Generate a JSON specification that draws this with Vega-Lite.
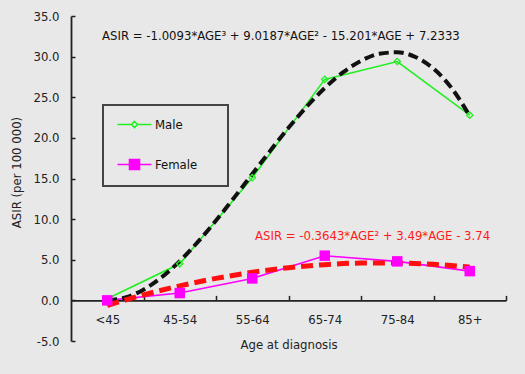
{
  "$schema": "https://vega.github.io/schema/vega-lite/v6.json",
  "width": 435,
  "height": 325,
  "autosize": {"type": "none"},
  "padding": {"left": 71, "top": 16, "right": 19, "bottom": 33},
  "background": "#e8e8e8",
  "config": {
    "view": {"stroke": null},
    "font": "DejaVu Sans Condensed, DejaVu Sans, sans-serif",
    "axis": {
      "domainColor": "#222222",
      "domainWidth": 1.8,
      "tickColor": "#222222",
      "tickWidth": 1.5,
      "labelColor": "#222222",
      "labelFontSize": 13,
      "titleColor": "#222222",
      "titleFontSize": 13,
      "titleFontWeight": "normal",
      "grid": false
    },
    "legend": {"strokeWidth": 2}
  },
  "datasets": {
    "obs": [
      {"age": 1, "sex": "Male", "asir": 0.2},
      {"age": 2, "sex": "Male", "asir": 4.5},
      {"age": 3, "sex": "Male", "asir": 15.1},
      {"age": 4, "sex": "Male", "asir": 27.2},
      {"age": 5, "sex": "Male", "asir": 29.4},
      {"age": 6, "sex": "Male", "asir": 22.8},
      {"age": 1, "sex": "Female", "asir": 0.0},
      {"age": 2, "sex": "Female", "asir": 0.9},
      {"age": 3, "sex": "Female", "asir": 2.7},
      {"age": 4, "sex": "Female", "asir": 5.5},
      {"age": 5, "sex": "Female", "asir": 4.8},
      {"age": 6, "sex": "Female", "asir": 3.6}
    ],
    "mfit": [
      {"age": 1.0, "asir": 0.0417},
      {"age": 1.25, "asir": 0.3525},
      {"age": 1.5, "asir": 1.3175},
      {"age": 1.75, "asir": 2.8421},
      {"age": 2.0, "asir": 4.8317},
      {"age": 2.25, "asir": 7.1917},
      {"age": 2.5, "asir": 9.8274},
      {"age": 2.75, "asir": 12.6442},
      {"age": 3.0, "asir": 15.5475},
      {"age": 3.25, "asir": 18.4327},
      {"age": 3.5, "asir": 21.2351},
      {"age": 3.75, "asir": 23.8302},
      {"age": 4.0, "asir": 26.1333},
      {"age": 4.25, "asir": 28.0498},
      {"age": 4.5, "asir": 29.485},
      {"age": 4.75, "asir": 30.3444},
      {"age": 5.0, "asir": 30.5333},
      {"age": 5.25, "asir": 29.9571},
      {"age": 5.5, "asir": 28.5212},
      {"age": 5.75, "asir": 26.1309},
      {"age": 6.0, "asir": 22.6917}
    ],
    "ffit": [
      {"age": 1.0, "asir": -0.6143},
      {"age": 1.5, "asir": 0.6753},
      {"age": 2.0, "asir": 1.7828},
      {"age": 2.5, "asir": 2.7081},
      {"age": 3.0, "asir": 3.4513},
      {"age": 3.5, "asir": 4.0123},
      {"age": 4.0, "asir": 4.3912},
      {"age": 4.5, "asir": 4.5879},
      {"age": 5.0, "asir": 4.6025},
      {"age": 5.5, "asir": 4.4349},
      {"age": 6.0, "asir": 4.0852}
    ],
    "eqm": [
      {"age": 0.928, "asir": 32.6, "label": "ASIR = -1.0093*AGE³ + 9.0187*AGE² - 15.201*AGE + 7.2333"}
    ],
    "eqf": [
      {"age": 3.038, "asir": 7.97, "label": "ASIR = -0.3643*AGE² + 3.49*AGE - 3.74"}
    ]
  },
  "encoding": {
    "x": {
      "field": "age",
      "type": "quantitative",
      "scale": {"domain": [0.5, 6.5], "nice": false, "zero": false},
      "axis": {
        "title": "Age at diagnosis",
        "values": [1, 2, 3, 4, 5, 6],
        "labelExpr": "['<45','45-54','55-64','65-74','75-84','85+'][datum.value - 1]",
        "offset": -40.625,
        "tickSize": -5,
        "tickOffset": 36.25,
        "labelOffset": -36.25,
        "labelPadding": 18,
        "titlePadding": 12
      }
    },
    "y": {
      "field": "asir",
      "type": "quantitative",
      "scale": {"domain": [-5, 35], "nice": false, "zero": false},
      "axis": {
        "title": "ASIR (per 100 000)",
        "values": [-5, 0, 5, 10, 15, 20, 25, 30, 35],
        "labelExpr": "replace(format(datum.value, '.1f'), '\u2212', '-')",
        "tickSize": -4,
        "labelPadding": 16,
        "titleX": -48,
        "titleY": 156
      }
    }
  },
  "layer": [
    {
      "data": {"name": "obs"},
      "transform": [{"filter": "datum.sex === 'Male'"}],
      "mark": {"type": "line", "color": "#22ee22", "strokeWidth": 1.6}
    },
    {
      "data": {"name": "obs"},
      "transform": [{"filter": "datum.sex === 'Female'"}],
      "mark": {"type": "line", "color": "#ff00ff", "strokeWidth": 1.6}
    },
    {
      "data": {"name": "mfit"},
      "mark": {"type": "line", "color": "#111111", "strokeWidth": 4, "strokeDash": [10, 5], "interpolate": "monotone"}
    },
    {
      "data": {"name": "ffit"},
      "mark": {"type": "line", "color": "#ff1010", "strokeWidth": 5, "strokeDash": [12, 6], "interpolate": "monotone"}
    },
    {
      "data": {"name": "obs"},
      "transform": [{"filter": "datum.sex === 'Male'"}],
      "mark": {"type": "point", "shape": "diamond", "filled": false, "color": "#22ee22", "size": 40, "strokeWidth": 1.3, "opacity": 1}
    },
    {
      "data": {"name": "obs"},
      "transform": [{"filter": "datum.sex === 'Female'"}],
      "mark": {"type": "point", "shape": "square", "filled": true, "color": "#ff00ff", "size": 110, "opacity": 1}
    },
    {
      "data": {"name": "obs"},
      "mark": {"type": "point", "opacity": 0, "size": 100},
      "encoding": {
        "shape": {
          "field": "sex", "type": "nominal",
          "scale": {"domain": ["Male", "Female"], "range": ["M-3.4,0H-0.6M0.6,0H3.4M0,-0.6L0.6,0L0,0.6L-0.6,0Z", "M-3.4,0H3.4M-1,-1H1V1H-1Z"]},
          "legend": {
            "title": null,
            "orient": "none",
            "legendX": 32,
            "legendY": 89,
            "strokeColor": "#444444",
            "padding": 13,
            "symbolSize": 100,
            "symbolOpacity": 1,
            "symbolStrokeWidth": 1.6,
            "symbolOffset": 12,
            "labelOffset": 14,
            "labelFontSize": 13,
            "labelColor": "#111111",
            "labelExpr": "datum.label + '\u2800\u2800'",
            "rowPadding": 24,
            "labelLimit": 0
          }
        },
        "stroke": {
          "field": "sex", "type": "nominal",
          "scale": {"domain": ["Male", "Female"], "range": ["#22ee22", "#ff00ff"]}
        },
        "fill": {
          "field": "sex", "type": "nominal",
          "scale": {"domain": ["Male", "Female"], "range": ["#e8e8e8", "#ff00ff"]}
        }
      }
    },
    {
      "data": {"name": "eqm"},
      "mark": {"type": "text", "align": "left", "baseline": "middle", "fontSize": 13, "color": "#111111"},
      "encoding": {"text": {"field": "label"}}
    },
    {
      "data": {"name": "eqf"},
      "mark": {"type": "text", "align": "left", "baseline": "middle", "fontSize": 13, "color": "#ff1a1a"},
      "encoding": {"text": {"field": "label"}}
    }
  ]
}
